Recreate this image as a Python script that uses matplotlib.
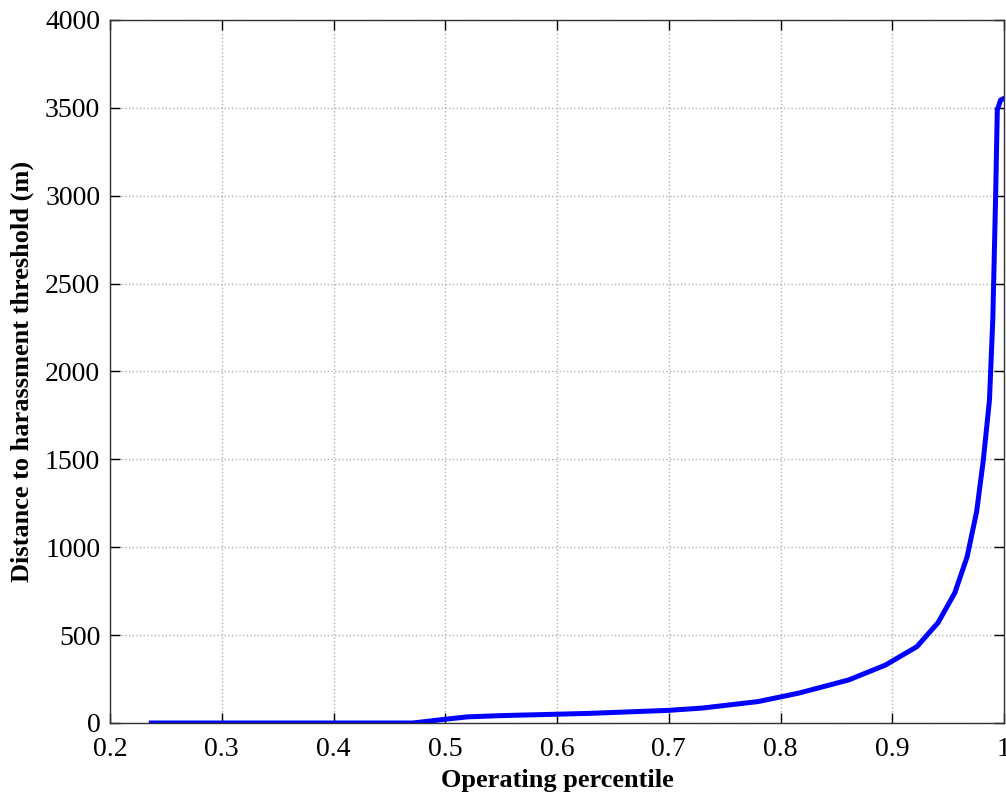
import matplotlib.pyplot as plt
import numpy as np

# curve
percentile = [0.237, 0.30, 0.40, 0.471, 0.501, 0.52, 0.55, 0.60, 0.63, 0.70,
              0.73, 0.78, 0.817, 0.861, 0.894, 0.922, 0.941, 0.956, 0.967,
              0.9755, 0.9815, 0.987, 0.990, 0.9925, 0.994, 0.997, 0.9994]
distance = [0, 0, 0, 0, 22, 35, 42, 50, 55, 72,
            85, 122, 171, 245, 330, 434, 571, 741, 946,
            1202, 1496, 1838, 2300, 2995, 3488, 3545, 3552]

xticks = [0.2, 0.3, 0.4, 0.5, 0.6, 0.7, 0.8, 0.9, 1.0]
xticklabels = ['0.2', '0.3', '0.4', '0.5', '0.6', '0.7', '0.8', '0.9', '1']
yticks = list(range(0, 4001, 500))

plt.rcParams['font.family'] = 'Liberation Serif'

fig = plt.figure(figsize=(10.06, 7.97), dpi=100)
ax = fig.add_axes([110 / 1006, 1 - 723 / 797, 894 / 1006, 703 / 797])

ax.plot(percentile, distance, color='#0000ff', linewidth=3.6, solid_joinstyle='round')

ax.set_xlim(0.2, 1.0)
ax.set_ylim(0, 4000)
ax.set_xticks(xticks)
ax.set_xticklabels(xticklabels)
ax.set_yticks(yticks)
ax.tick_params(direction='in', top=True, right=True, length=7, width=1,
               labelsize=20)
ax.tick_params(axis='x', pad=10)
ax.tick_params(axis='y', pad=7)
ax.grid(True, linestyle=':', color='#b0b0b0', linewidth=1)
for s in ax.spines.values():
    s.set_color('#333333')
    s.set_linewidth(1)

ax.set_xlabel('Operating percentile', fontsize=19, fontweight='bold', labelpad=5)
ax.set_ylabel('Distance to harassment threshold (m)', fontsize=19,
              fontweight='bold', labelpad=8)

fig.savefig('out.png', dpi=100)
